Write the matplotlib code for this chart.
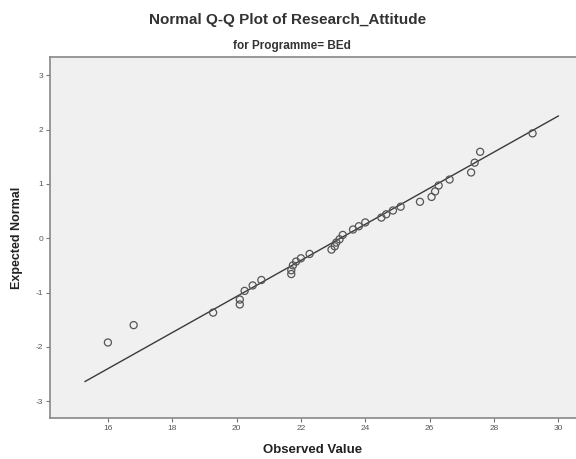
import matplotlib
matplotlib.use("Agg")
import matplotlib.pyplot as plt
import numpy as np

# Data
observed = [16.0, 16.8, 19.27, 20.1, 20.1, 20.25, 20.5, 20.77, 21.7, 21.7, 21.75,
            21.85, 22.0, 22.27, 22.95, 23.05, 23.1, 23.2, 23.3, 23.62, 23.8, 24.0,
            24.5, 24.65, 24.86, 25.1, 25.7, 26.06, 26.17, 26.28, 26.62, 27.29, 27.4,
            27.57, 29.2]
expected = [-1.92, -1.60, -1.37, -1.13, -1.22, -0.97, -0.87, -0.77, -0.66, -0.59, -0.50,
            -0.43, -0.37, -0.29, -0.21, -0.15, -0.08, -0.02, 0.06, 0.16, 0.22, 0.29,
            0.38, 0.44, 0.51, 0.58, 0.67, 0.76, 0.86, 0.97, 1.08, 1.21, 1.39,
            1.59, 1.93]
line_mean = 23.23
line_sd = 3.01
line_x = [15.29, 30.0]
xticks = [16, 18, 20, 22, 24, 26, 28, 30]
yticks = [-3, -2, -1, 0, 1, 2, 3]

plt.rcParams['font.family'] = ['Liberation Sans', 'DejaVu Sans']

fig = plt.figure(figsize=(5.76, 4.59), dpi=100)
fig.patch.set_facecolor('white')
ax = fig.add_axes([50/576, 41/459, 1 - 50/576, (418-57.3)/459])
ax.set_facecolor('#f0f0f0')

lx = np.array(line_x)
ax.plot(lx, (lx - line_mean) / line_sd, color='#3a3a3a', lw=1.0, zorder=2)
ax.scatter(observed, expected, s=26, facecolors='none', edgecolors='#555555',
           linewidths=0.9, zorder=3)

ax.set_xlim(14.2, 30.55)
ax.set_ylim(-3.31, 3.33)
ax.set_xticks(xticks)
ax.set_yticks(yticks)
ax.set_xticklabels([str(t) for t in xticks])
ax.set_yticklabels([str(t) for t in yticks])
ax.tick_params(axis='both', direction='out', length=3, width=0.8, colors='#777777',
               labelsize=6, labelcolor='#555555', pad=2)

for s in ['left', 'top', 'bottom']:
    ax.spines[s].set_color('#888888')
    ax.spines[s].set_linewidth(1.2)
ax.spines['right'].set_visible(False)

ax.set_xlabel('Observed Value', fontsize=9.5, fontweight='bold', color='#222222', labelpad=9)
ax.set_ylabel('Expected Normal', fontsize=9, fontweight='bold', color='#222222', labelpad=9)

fig.text(288/576, 1 - 20/459, 'Normal Q-Q Plot of Research_Attitude', ha='center', va='center',
         fontsize=11, fontweight='bold', color='#333333')
fig.text(292/576, 1 - 46/459, 'for Programme= BEd', ha='center', va='center',
         fontsize=8.5, fontweight='bold', color='#333333')

fig.savefig('out.png', dpi=100, facecolor='white')
